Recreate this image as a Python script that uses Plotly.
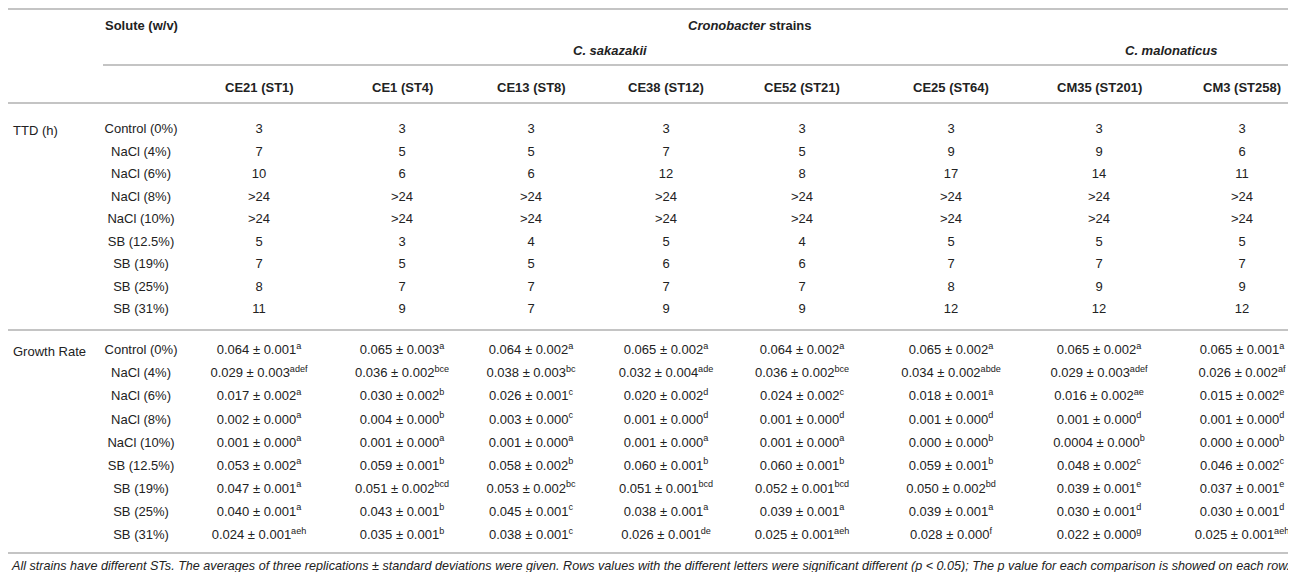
import plotly.graph_objects as go

# table content
strains = ["CE21 (ST1)", "CE1 (ST4)", "CE13 (ST8)", "CE38 (ST12)",
           "CE52 (ST21)", "CE25 (ST64)", "CM35 (ST201)", "CM3 (ST258)"]
solutes = ["Control (0%)", "NaCl (4%)", "NaCl (6%)", "NaCl (8%)", "NaCl (10%)",
           "SB (12.5%)", "SB (19%)", "SB (25%)", "SB (31%)"]

ttd = [
    ["3", "3", "3", "3", "3", "3", "3", "3"],
    ["7", "5", "5", "7", "5", "9", "9", "6"],
    ["10", "6", "6", "12", "8", "17", "14", "11"],
    [">24", ">24", ">24", ">24", ">24", ">24", ">24", ">24"],
    [">24", ">24", ">24", ">24", ">24", ">24", ">24", ">24"],
    ["5", "3", "4", "5", "4", "5", "5", "5"],
    ["7", "5", "5", "6", "6", "7", "7", "7"],
    ["8", "7", "7", "7", "7", "8", "9", "9"],
    ["11", "9", "7", "9", "9", "12", "12", "12"],
]

gr_mean = [
    ["0.064", "0.065", "0.064", "0.065", "0.064", "0.065", "0.065", "0.065"],
    ["0.029", "0.036", "0.038", "0.032", "0.036", "0.034", "0.029", "0.026"],
    ["0.017", "0.030", "0.026", "0.020", "0.024", "0.018", "0.016", "0.015"],
    ["0.002", "0.004", "0.003", "0.001", "0.001", "0.001", "0.001", "0.001"],
    ["0.001", "0.001", "0.001", "0.001", "0.001", "0.000", "0.0004", "0.000"],
    ["0.053", "0.059", "0.058", "0.060", "0.060", "0.059", "0.048", "0.046"],
    ["0.047", "0.051", "0.053", "0.051", "0.052", "0.050", "0.039", "0.037"],
    ["0.040", "0.043", "0.045", "0.038", "0.039", "0.039", "0.030", "0.030"],
    ["0.024", "0.035", "0.038", "0.026", "0.025", "0.028", "0.022", "0.025"],
]
gr_sd = [
    ["0.001", "0.003", "0.002", "0.002", "0.002", "0.002", "0.002", "0.001"],
    ["0.003", "0.002", "0.003", "0.004", "0.002", "0.002", "0.003", "0.002"],
    ["0.002", "0.002", "0.001", "0.002", "0.002", "0.001", "0.002", "0.002"],
    ["0.000", "0.000", "0.000", "0.000", "0.000", "0.000", "0.000", "0.000"],
    ["0.000", "0.000", "0.000", "0.000", "0.000", "0.000", "0.000", "0.000"],
    ["0.002", "0.001", "0.002", "0.001", "0.001", "0.001", "0.002", "0.002"],
    ["0.001", "0.002", "0.002", "0.001", "0.001", "0.002", "0.001", "0.001"],
    ["0.001", "0.001", "0.001", "0.001", "0.001", "0.001", "0.001", "0.001"],
    ["0.001", "0.001", "0.001", "0.001", "0.001", "0.000", "0.000", "0.001"],
]
gr_letters = [
    ["a", "a", "a", "a", "a", "a", "a", "a"],
    ["adef", "bce", "bc", "ade", "bce", "abde", "adef", "af"],
    ["a", "b", "c", "d", "c", "a", "ae", "e"],
    ["a", "b", "c", "d", "d", "d", "d", "d"],
    ["a", "a", "a", "a", "a", "b", "b", "b"],
    ["a", "b", "b", "b", "b", "b", "c", "c"],
    ["a", "bcd", "bc", "bcd", "bcd", "bd", "e", "e"],
    ["a", "b", "c", "a", "a", "a", "d", "d"],
    ["aeh", "b", "c", "de", "aeh", "f", "g", "aeh"],
]

footnote = ("All strains have different STs. The averages of three replications \u00b1 standard "
            "deviations were given. Rows values with the different letters were significant "
            "different (p < 0.05); The p value for each comparison is showed on each row.")

# layout positions (pixels)
W, H = 1296, 572
col_x = [251, 394, 523, 658, 794, 943, 1091, 1234]
solute_x = 133
ttd_y = [122 + 22.5 * i for i in range(9)]
gr_y = [343 + 23.1 * i for i in range(9)]

FONT = "Liberation Sans, Arial, Helvetica, sans-serif"
TXT = "#222222"
RULE = "#c4c4c4"
FS = 13

fig = go.Figure()

for j in range(len(strains)):
    fig.add_trace(go.Scatter(
        x=[col_x[j]] * len(solutes), y=ttd_y,
        mode="text", text=[row[j] for row in ttd],
        textfont=dict(family=FONT, size=FS, color=TXT),
        hoverinfo="skip", showlegend=False))
    cells = ["%s \u00b1 %s<sup>%s</sup>" % (gr_mean[i][j], gr_sd[i][j], gr_letters[i][j])
             for i in range(len(solutes))]
    fig.add_trace(go.Scatter(
        x=[col_x[j]] * len(solutes), y=gr_y,
        mode="text", text=cells,
        textfont=dict(family=FONT, size=FS, color=TXT),
        hoverinfo="skip", showlegend=False))

# solute labels
for ys in (ttd_y, gr_y):
    fig.add_trace(go.Scatter(
        x=[solute_x] * len(solutes), y=ys, mode="text", text=solutes,
        textfont=dict(family=FONT, size=FS, color=TXT),
        hoverinfo="skip", showlegend=False))

ann = []
def label(x, y, text, anchor="center", size=FS):
    ann.append(dict(x=x, y=y, xref="x", yref="y", text=text, showarrow=False,
                    xanchor=anchor, yanchor="middle",
                    font=dict(family=FONT, size=size, color=TXT)))

label(95, 17, "<b>Solute (w/v)</b>", "left")
label(742, 17, "<b><i>Cronobacter</i> strains</b>")
label(602, 42, "<b><i>C. sakazakii</i></b>")
label(1163, 42, "<b><i>C. malonaticus</i></b>")
for j, s in enumerate(strains):
    label(col_x[j], 79, "<b>%s</b>" % s)
label(3, ttd_y[0], "TTD (h)", "left")
label(3, gr_y[0], "Growth Rate", "left")
label(1, 558, "<i>%s</i>" % footnote, "left", size=12.6)

# horizontal rules
rules = [(0, W, 1), (95, 1289, 57), (0, W, 95), (0, W, 322), (0, W, 545)]
shapes = [dict(type="line", xref="x", yref="y", x0=a, x1=b, y0=y, y1=y,
               line=dict(color=RULE, width=2)) for a, b, y in rules]

fig.update_layout(
    width=W, height=H,
    margin=dict(l=0, r=0, t=0, b=0),
    paper_bgcolor="white", plot_bgcolor="white",
    xaxis=dict(range=[0, W], visible=False, fixedrange=True),
    yaxis=dict(range=[H, 0], visible=False, fixedrange=True),
    annotations=ann, shapes=shapes,
)

fig.write_html("out.html")
